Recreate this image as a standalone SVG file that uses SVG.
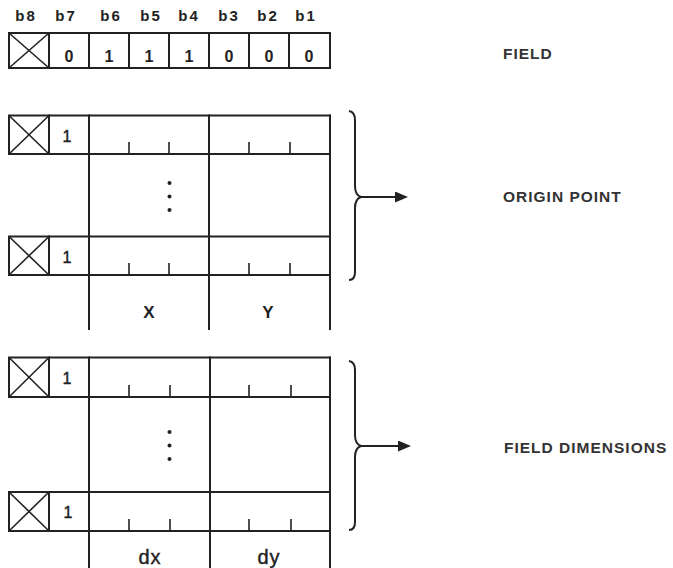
<svg xmlns="http://www.w3.org/2000/svg" width="673" height="568" viewBox="0 0 673 568">
<style>
  .ln { stroke:#222; stroke-width:2; fill:none; stroke-linecap:square; }
  .tk { stroke:#222; stroke-width:1.6; fill:none; }
  .bx { stroke:#222; stroke-width:2; fill:#fff; }
  .t { font-family:"Liberation Sans", Arial, sans-serif; fill:#222; text-anchor:middle; }
  .bit { font-size:15px; font-weight:bold; letter-spacing:2px; }
  .dig { font-size:16px; font-weight:bold; }
  .one { font-size:16px; font-weight:normal; stroke:#222; stroke-width:0.4; }
  .ax { font-size:17px; font-weight:bold; }
  .dd { font-size:20px; font-weight:normal; letter-spacing:1px; stroke:#222; stroke-width:0.4; }
  .lab { font-family:"Liberation Sans", Arial, sans-serif; fill:#333; font-size:15.5px; font-weight:bold; letter-spacing:1px; }
  .dot { fill:#222; }
  .br { stroke:#222; stroke-width:2; fill:none; }
</style>
<defs>
  <marker id="ah" markerWidth="13" markerHeight="11" refX="0" refY="5.5" orient="auto" markerUnits="userSpaceOnUse">
    <polygon points="0,0 13,5.5 0,11" fill="#222"/>
  </marker>
</defs>

<g id="bit-labels">
  <text class="t bit" x="26" y="21">b8</text>
  <text class="t bit" x="66" y="21">b7</text>
  <text class="t bit" x="111" y="21">b6</text>
  <text class="t bit" x="151" y="21">b5</text>
  <text class="t bit" x="189" y="21">b4</text>
  <text class="t bit" x="229" y="21">b3</text>
  <text class="t bit" x="268" y="21">b2</text>
  <text class="t bit" x="306" y="21">b1</text>
</g>

<g id="field-row">
  <rect class="bx" x="9" y="33" width="321" height="35"/>
  <line class="tk" x1="9" y1="33" x2="49" y2="68"/>
  <line class="tk" x1="49" y1="33" x2="9" y2="68"/>
  <line class="ln" x1="49" y1="33" x2="49" y2="68"/>
  <line class="ln" x1="89" y1="33" x2="89" y2="68"/>
  <line class="ln" x1="129" y1="33" x2="129" y2="68"/>
  <line class="ln" x1="169" y1="33" x2="169" y2="68"/>
  <line class="ln" x1="209" y1="33" x2="209" y2="68"/>
  <line class="ln" x1="249" y1="33" x2="249" y2="68"/>
  <line class="ln" x1="289" y1="33" x2="289" y2="68"/>
  <text class="t dig" x="69" y="62">0</text>
  <text class="t dig" x="109" y="62">1</text>
  <text class="t dig" x="149" y="62">1</text>
  <text class="t dig" x="189" y="62">1</text>
  <text class="t dig" x="229" y="62">0</text>
  <text class="t dig" x="269" y="62">0</text>
  <text class="t dig" x="309" y="62">0</text>
</g>
<text class="lab" x="503" y="59">FIELD</text>

<g id="origin-point">
  <rect class="bx" x="9" y="115.5" width="40" height="38.5"/>
  <line class="tk" x1="9" y1="115.5" x2="49" y2="154"/>
  <line class="tk" x1="49" y1="115.5" x2="9" y2="154"/>
  <rect class="bx" x="9" y="236.5" width="40" height="38.5"/>
  <line class="tk" x1="9" y1="236.5" x2="49" y2="275"/>
  <line class="tk" x1="49" y1="236.5" x2="9" y2="275"/>
  <line class="ln" x1="49" y1="115.5" x2="330" y2="115.5"/>
  <line class="ln" x1="49" y1="154" x2="330" y2="154"/>
  <line class="ln" x1="49" y1="236.5" x2="330" y2="236.5"/>
  <line class="ln" x1="49" y1="275" x2="330" y2="275"/>
  <line class="ln" x1="89" y1="115.5" x2="89" y2="329"/>
  <line class="ln" x1="209" y1="115.5" x2="209" y2="329"/>
  <line class="ln" x1="330" y1="115.5" x2="330" y2="329"/>
  <line class="tk" x1="129" y1="142" x2="129" y2="154"/>
  <line class="tk" x1="169" y1="142" x2="169" y2="154"/>
  <line class="tk" x1="249" y1="142" x2="249" y2="154"/>
  <line class="tk" x1="290" y1="142" x2="290" y2="154"/>
  <line class="tk" x1="129" y1="263" x2="129" y2="275"/>
  <line class="tk" x1="169" y1="263" x2="169" y2="275"/>
  <line class="tk" x1="249" y1="263" x2="249" y2="275"/>
  <line class="tk" x1="290" y1="263" x2="290" y2="275"/>
  <text class="t one" x="67" y="142">1</text>
  <text class="t one" x="67" y="263">1</text>
  <circle class="dot" cx="169.5" cy="183" r="2"/>
  <circle class="dot" cx="169.5" cy="196.5" r="2"/>
  <circle class="dot" cx="169.5" cy="210" r="2"/>
  <text class="t ax" x="149" y="318">X</text>
  <text class="t ax" x="268" y="318">Y</text>
</g>

<g id="field-dimensions">
  <rect class="bx" x="9" y="357.5" width="40" height="39.5"/>
  <line class="tk" x1="9" y1="357.5" x2="49" y2="397"/>
  <line class="tk" x1="49" y1="357.5" x2="9" y2="397"/>
  <rect class="bx" x="9" y="492" width="40" height="39"/>
  <line class="tk" x1="9" y1="492" x2="49" y2="531"/>
  <line class="tk" x1="49" y1="492" x2="9" y2="531"/>
  <line class="ln" x1="49" y1="357.5" x2="330" y2="357.5"/>
  <line class="ln" x1="49" y1="397" x2="330" y2="397"/>
  <line class="ln" x1="49" y1="492" x2="330" y2="492"/>
  <line class="ln" x1="49" y1="531" x2="330" y2="531"/>
  <line class="ln" x1="89" y1="357.5" x2="89" y2="569"/>
  <line class="ln" x1="210" y1="357.5" x2="210" y2="569"/>
  <line class="ln" x1="330" y1="357.5" x2="330" y2="569"/>
  <line class="tk" x1="129" y1="385" x2="129" y2="397"/>
  <line class="tk" x1="170" y1="385" x2="170" y2="397"/>
  <line class="tk" x1="249" y1="385" x2="249" y2="397"/>
  <line class="tk" x1="291" y1="385" x2="291" y2="397"/>
  <line class="tk" x1="129" y1="519" x2="129" y2="531"/>
  <line class="tk" x1="170" y1="519" x2="170" y2="531"/>
  <line class="tk" x1="249" y1="519" x2="249" y2="531"/>
  <line class="tk" x1="291" y1="519" x2="291" y2="531"/>
  <text class="t one" x="67" y="384">1</text>
  <text class="t one" x="68" y="518">1</text>
  <circle class="dot" cx="169.5" cy="432" r="2"/>
  <circle class="dot" cx="169.5" cy="445.5" r="2"/>
  <circle class="dot" cx="169.5" cy="459" r="2"/>
  <text class="t dd" x="150" y="564">dx</text>
  <text class="t dd" x="269" y="564">dy</text>
</g>

<g id="connectors">
  <path class="br" d="M349,111 Q355,112 355,120 L355,186 Q355,195 361,197 Q355,199 355,208 L355,272 Q355,280 349,280"/>
  <line class="br" x1="360" y1="197" x2="395" y2="197" marker-end="url(#ah)"/>
  <path class="br" d="M349,361 Q355,362 355,370 L355,435 Q355,444 361,446 Q355,448 355,457 L355,522 Q355,530 349,530"/>
  <line class="br" x1="360" y1="446" x2="398" y2="446" marker-end="url(#ah)"/>
</g>

<text class="lab" x="503" y="202">ORIGIN POINT</text>
<text class="lab" x="504" y="453">FIELD DIMENSIONS</text>
</svg>
